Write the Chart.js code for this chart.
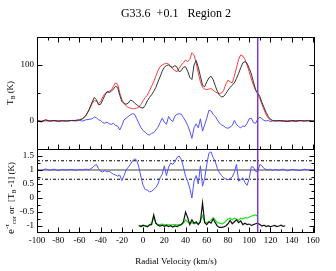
<!DOCTYPE html>
<html lang="en">

<head>
    <meta charset="UTF-8" />
    <title>G33.6 +0.1 Region 2</title>
    <script src="https://cdn.jsdelivr.net/npm/chart.js@4.4.0/dist/chart.umd.min.js"></script>
    <style>
        body { margin: 0; background: #fff; }
    </style>
</head>

<body>

    <canvas id="chart" width="336" height="271"></canvas>

    <script>
        // velocity grid of the emission spectra (km/s)
        const velocity = [
            -100, -96, -92, -88, -84, -80, -76, -72, -68, -64, -60, -57, -54, -51, -48,
            -46, -44, -42, -40, -38, -36, -34, -32, -30, -28,
            -26, -24, -22, -20, -18, -16, -14, -12, -10, -8,
            -6, -4, -2, 0, 2, 4, 6, 8, 10, 12,
            14, 16, 18, 20, 22, 24, 26, 28, 30, 32,
            34, 36, 38, 40, 42, 44, 46, 48, 50, 52,
            54, 56, 58, 60, 62, 64, 66, 68, 70, 72,
            74, 76, 78, 80, 82, 84, 86, 88, 90, 92,
            94, 96, 98, 100, 102, 104, 106, 108, 110, 112,
            114, 116, 118, 120, 122, 124,
            128, 132, 136, 140, 144, 148, 152, 156, 160, 162
        ];
        // T_B observed (black)
        const tbObserved = [
            1, -1, 2, 0, 1, 0, 0.5, 0, 1, 1, 2, 4, 10, 20, 34,
            42, 38, 29, 30, 38, 46, 52, 51, 53, 57,
            62, 60, 46, 35, 31, 30, 32, 37, 36, 32,
            29, 26, 24, 23, 28, 36, 42, 47, 53, 60,
            70, 79, 89, 96, 99, 100, 97, 96, 99, 96,
            88, 90, 96, 97, 89, 78, 74, 100, 108, 96,
            80, 64, 61, 70, 77, 80, 74, 63, 53, 46,
            43, 44, 49, 55, 60, 64, 68, 76, 85, 95,
            104, 106, 103, 94, 84, 70, 56, 50, 44, 33,
            24, 15, 8, 3, 1, 0,
            1, 0, -1, 1, 0, 1, 0, 1, 0, 0
        ];
        // T_B model (red)
        const tbModel = [
            0, 0, 0, 0, 0, 0, 0, 0, 0.5, 1, 2, 4, 9, 19, 31,
            37, 35, 31, 35, 43, 49, 52, 53, 55, 62,
            68, 66, 50, 38, 32, 27, 24, 23, 22, 22,
            23, 25, 30, 36, 42, 46, 54, 62, 70, 80,
            90, 97, 100, 102, 103, 102, 97, 93, 90, 88,
            94, 100, 104, 109, 106, 110, 122, 118, 104, 86,
            70, 60, 57, 56, 57, 58, 55, 52, 50, 49,
            50, 55, 66, 73, 70, 68, 80, 95, 110, 118,
            116, 110, 100, 88, 75, 64, 55, 48, 40, 30,
            20, 11, 5, 2, 1, 0,
            0.5, -0.5, 1, 0, 0.5, 0, 0.5, 0, 0, 0
        ];
        // residual (blue, top panel)
        const tbResidual = [
            1, -2, 2, 0, 1, -1, 1, 0, 1, 0, 1, 0, 2, 3, 4,
            7, 6, 2, 1, -3, -4, -2, -5, -6, -4,
            -8, -9, -16, -8, 2, 5, 8, 11, 13, 12,
            4, -4, -12, -17, -20, -24, -25, -22, -21, -16,
            -11, -3, 5, -2, -6, 8, 2, -1, 9, 12,
            13, 12, 6, 0, -8, -18, -31, -12, -5, -12,
            4, -18, -7, 5, 19, 18, 12, 8, 2, -4,
            -7, -9, -12, -13, -11, -8, 1, -6, -10, -12,
            -9, -10, -4, 4, 5, -3, -4, 3, 7, 4,
            1, 0, 1, -1, 0, 1,
            0, 1, -1, 0, -1, 1, 0, 1, 0, 0
        ];
        // e^-tau corrected (blue, bottom panel)
        const tauRatio = [
            1.02, 0.97, 1.04, 0.99, 1.03, 0.98, 1.02, 1.0, 1.02, 0.99, 1.02, 1.0, 1.03, 1.01, 1.08,
            1.15, 1.2, 1.05, 0.95, 0.93, 0.98, 0.93, 0.96, 0.9, 0.85,
            0.82, 0.78, 0.82, 0.62, 0.8, 1.0, 1.1, 1.2, 1.32, 1.4,
            1.35, 1.1, 0.75, 0.45, 0.3, 0.28, 0.22, 0.24, 0.3, 0.38,
            0.5, 0.72, 0.85, 1.15, 0.8, 1.1, 1.25, 1.2, 1.3, 1.45,
            1.5, 1.38, 1.1, 0.78, 0.6, 0.35, 0.0, 0.6, 0.8, 0.5,
            1.15, 0.42, 0.7, 1.2, 1.6, 1.65, 1.45, 1.3, 1.05, 0.9,
            0.8, 0.72, 0.68, 0.65, 0.7, 0.75, 0.92, 1.2, 0.6, 0.65,
            0.72, 0.55, 0.45, 0.7, 1.12, 1.1, 0.95, 0.93, 1.2, 1.15,
            1.05, 1.02, 1.0, 1.03, 0.98, 1.02,
            0.99, 1.03, 0.97, 1.02, 1.0, 0.98, 1.03, 1.0, 1.01, 1.0
        ];

        // absorption spectra, shifted to -1 (bottom panel)
        const absVelocity = [
            -4, -2, 0, 2, 4, 6, 8, 10, 12, 14,
            16, 18, 20, 22, 24, 26, 28, 30, 32, 34,
            36, 38, 40, 42, 44, 46, 48, 50, 52, 54,
            56, 58, 60, 62, 64, 66, 68, 70, 72, 74,
            76, 78, 80, 82, 84, 86, 88, 90, 92, 94,
            96, 98, 100, 102, 104, 106, 108, 110, 112, 114,
            116, 118, 120, 122, 124, 126, 128, 130, 132, 134
        ];
        const absObserved = [
            -0.98, -1.02, -0.97, -1.0, -1.03, -0.96, -0.95, -0.6, -0.9, -0.97,
            -1.0, -0.97, -1.01, -0.98, -1.02, -0.99, -1.04, -1.0, -1.02, -0.98,
            -0.95, -0.85, -0.5, -0.7, -0.95, -0.78, -0.9, -0.85, -0.95, -0.85,
            -0.18, -0.88, -0.95, -0.85, -0.9, -0.75, -0.88, -1.0, -1.05, -1.05,
            -1.03, -1.0, -0.92, -0.8, -0.92, -0.85, -0.78, -0.88, -0.82, -0.95,
            -0.9, -0.95, -0.93, -0.98, -0.95, -0.92, -0.9, -0.95, -1.0, -0.97,
            -1.02, -0.99, -1.03, -1.0, -0.98, -1.02, -1.0, -0.97, -1.01, -0.99
        ];
        const absModel = [
            -1.0, -0.99, -1.0, -0.98, -1.0, -0.97, -0.9, -0.68, -0.9, -0.95,
            -0.95, -0.93, -0.95, -0.95, -0.95, -0.97, -0.95, -0.95, -0.96, -0.95,
            -0.94, -0.9, -0.78, -0.85, -0.92, -0.88, -0.92, -0.9, -0.92, -0.8,
            -0.62, -0.85, -0.88, -0.85, -0.8, -0.7, -0.78, -0.88, -0.9, -0.92,
            -0.9, -0.82, -0.75, -0.72, -0.78, -0.72, -0.75, -0.8, -0.72, -0.75,
            -0.7, -0.72, -0.68, -0.65, -0.62, -0.6, -0.65
        ];

        // tick labels
        const velocityTicks = [-100, -80, -60, -40, -20, 0, 20, 40, 60, 80, 100, 120, 140, 160];
        const topTicks = [0, 100];
        const bottomTicks = [-1, -0.5, 0, 0.5, 1, 1.5];

        const levelValues = [1, 1.33, 0.67];
        const cutVelocity = 108;
        const serif = '"Liberation Serif", "Times New Roman", serif';

        const pts = (xs, ys) => ys.map((y, i) => ({ x: xs[i], y: y }));
        const span = y => [{ x: -100, y: y }, { x: 162, y: y }];
        const fixTicks = list => s => { s.ticks = list.map(v => ({ value: v })); };

        // inward ticks, panel frame, separator and cut line
        const panelFrame = {
            id: 'panelFrame',
            afterDatasetsDraw(chart) {
                const { ctx, chartArea: a, scales } = chart;
                const x = scales.x, yTop = scales.yTop, yBot = scales.yBot;
                const sep = Math.round(yTop.bottom) + 0.5;
                ctx.save();

                ctx.strokeStyle = '#7a3cc8';
                ctx.lineWidth = 1.5;
                const cx = x.getPixelForValue(cutVelocity);
                ctx.beginPath();
                ctx.moveTo(cx, a.top);
                ctx.lineTo(cx, a.bottom);
                ctx.stroke();

                ctx.strokeStyle = '#000';
                ctx.lineWidth = 1;
                const L = Math.round(a.left) + 0.5, R = Math.round(a.right) - 0.5;
                const T = Math.round(a.top) + 0.5, B = Math.round(a.bottom) - 0.5;
                ctx.strokeRect(L, T, R - L, B - T);
                ctx.beginPath();
                ctx.moveTo(L, sep);
                ctx.lineTo(R, sep);

                for (let k = 0; -100 + k * 10 <= x.max; k++) {
                    const v = -100 + k * 10;
                    const px = Math.round(x.getPixelForValue(v)) + 0.5;
                    const len = k % 2 === 0 ? 5 : 3;
                    ctx.moveTo(px, T); ctx.lineTo(px, T + len);
                    ctx.moveTo(px, sep); ctx.lineTo(px, sep - len);
                    ctx.moveTo(px, B); ctx.lineTo(px, B - len);
                }
                for (let k = 1; -50 + k * 50 < yTop.max; k++) {
                    const py = Math.round(yTop.getPixelForValue(-50 + k * 50)) + 0.5;
                    const len = k % 2 === 1 ? 5 : 3;
                    ctx.moveTo(L, py); ctx.lineTo(L + len, py);
                    ctx.moveTo(R, py); ctx.lineTo(R - len, py);
                }
                for (let k = 1; -1.25 + k * 0.25 < yBot.max; k++) {
                    const py = Math.round(yBot.getPixelForValue(-1.25 + k * 0.25)) + 0.5;
                    const len = k % 2 === 1 ? 5 : 3;
                    ctx.moveTo(L, py); ctx.lineTo(L + len, py);
                    ctx.moveTo(R, py); ctx.lineTo(R - len, py);
                }
                ctx.stroke();
                ctx.restore();
            },
            afterDraw(chart) {
                const ctx = chart.ctx;
                const yTop = chart.scales.yTop, yBot = chart.scales.yBot;
                drawVertical(ctx, [
                    { t: 'T', size: 9, dy: 0 },
                    { t: 'B', size: 6, dy: 2 },
                    { t: ' (K)', size: 9, dy: 0 }
                ], 13, (yTop.top + yTop.bottom) / 2);
                drawVertical(ctx, [
                    { t: 'e', size: 11, dy: 0 },
                    { t: '-\u03c4', size: 7, dy: -5 },
                    { t: 'cor', size: 6, dy: 2 },
                    { t: ' or  [T', size: 9, dy: 0 },
                    { t: 'B', size: 6, dy: 2 },
                    { t: ' -1] (K)', size: 9, dy: 0 }
                ], 14, (yBot.top + yBot.bottom) / 2 + 7);
            }
        };

        function drawVertical(ctx, parts, cx, cy) {
            ctx.save();
            ctx.translate(cx, cy);
            ctx.rotate(-Math.PI / 2);
            ctx.fillStyle = '#000';
            ctx.textBaseline = 'alphabetic';
            let w = 0;
            parts.forEach(p => {
                ctx.font = p.size + 'px ' + serif;
                p.w = ctx.measureText(p.t).width;
                w += p.w;
            });
            let x = -w / 2;
            parts.forEach(p => {
                ctx.font = p.size + 'px ' + serif;
                ctx.fillText(p.t, x, p.dy);
                x += p.w;
            });
            ctx.restore();
        }

        const tickFont = { family: serif, size: 9 };
        const ctx = document.getElementById('chart').getContext('2d');

        const myChart = new Chart(ctx, {
            type: 'line',
            data: {
                datasets: [
                    { data: pts(velocity, tbObserved), yAxisID: 'yTop', borderColor: '#333' },
                    { data: pts(velocity, tbModel), yAxisID: 'yTop', borderColor: '#ff3c3c' },
                    { data: pts(velocity, tbResidual), yAxisID: 'yTop', borderColor: '#5252ff' },
                    { data: pts(absVelocity, absObserved), yAxisID: 'yBot', borderColor: '#111', borderWidth: 1.2 },
                    { data: pts(absVelocity, absModel), yAxisID: 'yBot', borderColor: '#1ee61e', borderWidth: 1.2 },
                    { data: pts(velocity, tauRatio), yAxisID: 'yBot', borderColor: '#5252ff' },
                    { data: span(levelValues[0]), yAxisID: 'yBot', borderColor: '#808080', borderWidth: 1.5 },
                    { data: span(levelValues[1]), yAxisID: 'yBot', borderColor: '#000', borderDash: [3, 2, 1, 2] },
                    { data: span(levelValues[2]), yAxisID: 'yBot', borderColor: '#000', borderDash: [3, 2, 1, 2] }
                ]
            },
            options: {
                responsive: false,
                animation: false,
                layout: { padding: { top: 0, right: 21, bottom: 0, left: 0 } },
                elements: {
                    point: { radius: 0 },
                    line: { borderWidth: 1, tension: 0 }
                },
                plugins: {
                    legend: { display: false },
                    tooltip: { enabled: false },
                    title: {
                        display: true,
                        text: 'G33.6  +0.1   Region 2',
                        fullSize: false,
                        color: '#000',
                        font: { family: serif, size: 12, weight: 'normal' },
                        padding: { top: 7, bottom: 15.6 }
                    }
                },
                scales: {
                    x: {
                        type: 'linear',
                        min: -100,
                        max: 162,
                        grid: { display: false, drawTicks: false },
                        border: { display: false },
                        afterBuildTicks: fixTicks(velocityTicks),
                        ticks: { color: '#000', font: tickFont, padding: 2, maxRotation: 0, autoSkip: false },
                        title: { display: true, text: 'Radial Velocity (km/s)', color: '#000', font: tickFont, padding: { top: 0, bottom: 4 } },
                        afterFit: s => { s.height = 38; }
                    },
                    yBot: {
                        type: 'linear',
                        position: 'left',
                        stack: 'panels',
                        stackWeight: 3,
                        min: -1.25,
                        max: 1.75,
                        grid: { display: false, drawTicks: false },
                        border: { display: false },
                        afterBuildTicks: fixTicks(bottomTicks),
                        ticks: { color: '#000', font: tickFont, padding: 3, autoSkip: false,
                            callback: v => String(v) },
                        afterFit: s => { s.width = 37; }
                    },
                    yTop: {
                        type: 'linear',
                        position: 'left',
                        stack: 'panels',
                        stackWeight: 4,
                        min: -50,
                        max: 150,
                        grid: { display: false, drawTicks: false },
                        border: { display: false },
                        afterBuildTicks: fixTicks(topTicks),
                        ticks: { color: '#000', font: tickFont, padding: 3, autoSkip: false,
                            callback: v => String(v) },
                        afterFit: s => { s.width = 37; }
                    }
                }
            },
            plugins: [panelFrame]
        });
    </script>
</body>

</html>
